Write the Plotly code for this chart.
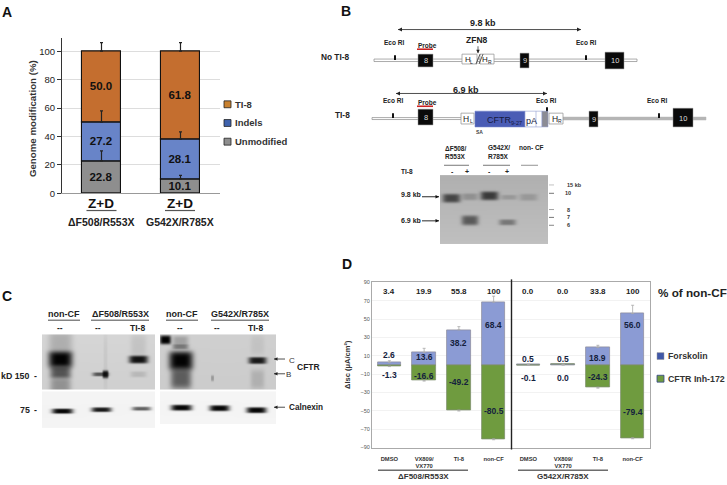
import base64
import math
import struct
import zlib

import numpy as np
import plotly.graph_objects as go

W, H = 727, 485
FONT = "Liberation Sans"

# panel A
a_groups = ["ΔF508/R553X", "G542X/R785X"]
a_unmod = [22.8, 10.1]
a_indels = [27.2, 28.1]
a_ti8 = [50.0, 61.8]
a_unmod_err = [7, 2.5]
a_indels_err = [8, 5]
a_ti8_err = [6, 6]

# panel D
d_labels = ["DMSO", "VX809/<br>VX770", "TI-8", "non-CF", "DMSO", "VX809/<br>VX770", "TI-8", "non-CF"]
d_forskolin = [2.6, 13.6, 38.2, 68.4, 0.5, 0.5, 18.9, 56.0]
d_inh172 = [-1.3, -16.6, -49.2, -80.5, -0.1, 0.0, -24.3, -79.4]
d_forskolin_err = [2, 4.5, 3.5, 6.5, 0.5, 0.5, 2.5, 9]
d_inh172_err = [0.5, 1, 1, 1, 0.5, 0, 1, 1]
d_percent = ["3.4", "19.9", "55.8", "100", "0.0", "0.0", "33.8", "100"]
d_ticks = [-90, -70, -50, -30, -10, 10, 30, 50, 70, 90]

shapes = []
notes = []
images = []


def fx(x):
    return x / W


def fy(y):
    return 1 - y / H


def box(x0, y0, x1, y1, fill, line="rgba(0,0,0,0)", lw=0.8):
    shapes.append(dict(type="rect", xref="paper", yref="paper", x0=fx(x0), x1=fx(x1), y0=fy(y0), y1=fy(y1),
                       fillcolor=fill, line=dict(color=line, width=lw)))


def seg(x0, y0, x1, y1, color="#333333", lw=1):
    shapes.append(dict(type="line", xref="paper", yref="paper", x0=fx(x0), x1=fx(x1), y0=fy(y0), y1=fy(y1),
                       line=dict(color=color, width=lw)))


def text(x, y, s, size=8, color="#222222", bold=True, anchor="center"):
    if bold:
        s = "<b>" + s + "</b>"
    notes.append(dict(xref="paper", yref="paper", x=fx(x), y=fy(y), text=s, showarrow=False, xanchor=anchor,
                      yanchor="middle", borderpad=0, font=dict(family=FONT, size=size, color=color)))


def vtext(x, y, s, size, color="#333333"):
    notes.append(dict(xref="paper", yref="paper", x=fx(x), y=fy(y), text=s, textangle=-90, showarrow=False,
                      xanchor="center", yanchor="middle", font=dict(family=FONT, size=size, color=color)))


def head(x0, y0, x1, y1, color, size):
    a = math.atan2(y1 - y0, x1 - x0)
    pts = [(x1, y1),
           (x1 - size * math.cos(a) - size * 0.5 * math.sin(a), y1 - size * math.sin(a) + size * 0.5 * math.cos(a)),
           (x1 - size * math.cos(a) + size * 0.5 * math.sin(a), y1 - size * math.sin(a) - size * 0.5 * math.cos(a))]
    path = "M" + " L".join("%.5f %.5f" % (fx(p), fy(q)) for p, q in pts) + " Z"
    shapes.append(dict(type="path", xref="paper", yref="paper", path=path, fillcolor=color, line=dict(width=0)))


def arrow(x0, y0, x1, y1, both=False, color="#222222", lw=0.8, size=4):
    seg(x0, y0, x1, y1, color, lw)
    head(x0, y0, x1, y1, color, size)
    if both:
        head(x1, y1, x0, y0, color, size)


def png_uri(arr):
    raw = b"".join(b"\x00" + row.tobytes() for row in arr)
    def chunk(tag, data):
        return struct.pack(">I", len(data)) + tag + data + struct.pack(">I", zlib.crc32(tag + data) & 0xffffffff)
    h, w = arr.shape
    png = b"\x89PNG\r\n\x1a\n" + chunk(b"IHDR", struct.pack(">IIBBBBB", w, h, 8, 0, 0, 0, 0)) \
        + chunk(b"IDAT", zlib.compress(raw)) + chunk(b"IEND", b"")
    return "data:image/png;base64," + base64.b64encode(png).decode()


def blot(x0, y0, x1, y1, bg_top, bg_bot, bands):
    # photographed gel/blot strip: grey ground with soft dark bands
    ys, xs = np.mgrid[y0:y1, x0:x1]
    img = bg_top + (bg_bot - bg_top) * (ys - y0) / (y1 - y0)
    img = img.astype(float)
    for cx, cy, sx, sy, dark in bands:
        d = dark * np.exp(-np.abs((xs - cx) / sx) ** 4 - np.abs((ys - cy) / sy) ** 4)
        img = img * (1 - d)
    images.append(dict(source=png_uri(np.clip(img, 0, 255).astype(np.uint8)), xref="paper", yref="paper", x=fx(x0), y=fy(y0),
                       sizex=(x1 - x0) / W, sizey=(y1 - y0) / H, xanchor="left", yanchor="top", sizing="stretch",
                       layer="below"))


fig = go.Figure()

# panel A bars
a_x = [0, 1]
for name, vals, col in [("Unmodified", a_unmod, "#8e8e8e"), ("Indels", a_indels, "#6884c8"), ("TI-8", a_ti8, "#c46e2f")]:
    fig.add_trace(go.Bar(x=a_x, y=vals, name=name, marker=dict(color=col, line=dict(color="#111111", width=1.1)),
                         width=0.5, text=["%.1f" % v for v in vals], textposition="inside", insidetextanchor="middle",
                         textangle=0, constraintext="none", insidetextfont=dict(family=FONT, size=11.5, color="#111111"),
                         texttemplate="<b>%{text}</b>", showlegend=False, xaxis="x", yaxis="y"))
a_tops1 = a_unmod
a_tops2 = [p + q for p, q in zip(a_unmod, a_indels)]
a_tops3 = [p + q + r for p, q, r in zip(a_unmod, a_indels, a_ti8)]
for tops, errs in [(a_tops1, a_unmod_err), (a_tops2, a_indels_err), (a_tops3, a_ti8_err)]:
    fig.add_trace(go.Scatter(x=a_x, y=tops, mode="markers", marker=dict(size=1, opacity=0), showlegend=False,
                             error_y=dict(type="data", symmetric=False, array=errs, arrayminus=[0, 0], color="#222222",
                                          thickness=1.2, width=1.5), xaxis="x", yaxis="y"))

# panel D bars
d_x = list(range(8))
fig.add_trace(go.Bar(x=d_x, y=d_forskolin, name="Forskolin", width=0.67, showlegend=False, xaxis="x2", yaxis="y2",
                     marker=dict(color="#8b9bd4", line=dict(color="#8f8f9f", width=0.8))))
fig.add_trace(go.Bar(x=d_x, y=d_inh172, name="CFTR Inh-172", width=0.67, showlegend=False, xaxis="x2", yaxis="y2",
                     marker=dict(color="#6f9b3f", line=dict(color="#7f8f6f", width=0.8))))
fig.add_trace(go.Scatter(x=d_x, y=d_forskolin, mode="markers", marker=dict(size=1, opacity=0), showlegend=False,
                         error_y=dict(type="data", symmetric=False, array=d_forskolin_err, arrayminus=[0] * 8,
                                      color="#aaaaaa", thickness=0.8, width=1.5), xaxis="x2", yaxis="y2"))
fig.add_trace(go.Scatter(x=d_x, y=d_inh172, mode="markers", marker=dict(size=1, opacity=0), showlegend=False,
                         error_y=dict(type="data", symmetric=False, array=[0] * 8, arrayminus=d_inh172_err,
                                      color="#aaaaaa", thickness=0.8, width=1.5), xaxis="x2", yaxis="y2"))

# value labels in D, placed by eye
forsk_y = [11, 9, 24, 44, 7, 7, 8, 43.5]
inh_y = [-10.5, -12.5, -19, -50, -14.4, -14.4, -13.6, -51]
for i in d_x:
    notes.append(dict(xref="x2", yref="y2", x=i, y=forsk_y[i], text="<b>%.1f</b>" % d_forskolin[i], showarrow=False,
                      font=dict(family=FONT, size=8.5, color="#14213d")))
    notes.append(dict(xref="x2", yref="y2", x=i, y=inh_y[i], text="<b>%.1f</b>" % d_inh172[i], showarrow=False,
                      font=dict(family=FONT, size=8.5, color="#14213d")))
    notes.append(dict(xref="x2", yref="y2", x=i, y=79.5, text="<b>%s</b>" % d_percent[i], showarrow=False,
                      font=dict(family=FONT, size=8, color="#222222")))

# panel letters
text(7, 9, "A", 14, "#111111")
text(346, 8, "B", 14, "#111111")
text(7, 298, "C", 14, "#111111")
text(347, 265, "D", 14, "#111111")

# panel A text
vtext(32, 118, "<b>Genome modification (%)</b>", 9.7)
for cx, g in zip([101.5, 180], a_groups):
    text(cx, 204, "Z+D", 13.5, "#111111")
    seg(cx - 15, 211, cx + 15, 211, "#555555", 1.2)
    text(cx, 223, g, 10.5, "#222222")
for ly, name, col in [(103, "TI-8", "#c8812f"), (122, "Indels", "#3f63ad"), (141, "Unmodified", "#8e8e8e")]:
    box(224, ly - 3.5, 231, ly + 3.5, col, "#222222", 0.8)
    text(234, ly, name, 9.5, "#333333", anchor="left")

# panel B top map
arrow(398, 27, 581, 27, both=True)
text(483, 20, "9.8 kb", 9)
text(394, 40, "Eco RI", 6.5)
text(586, 40, "Eco RI", 6.5)
text(427, 43, "Probe", 6.5)
seg(417, 47, 433, 47, "#cc2222", 1.6)
text(477, 38, "ZFN8", 8.5)
arrow(478, 44, 478, 51, lw=0.7, size=3.5)
text(335, 55, "No TI-8", 8.3)
box(374, 57, 637, 59.5, "#ffffff", "#888888", 0.7)
seg(395, 53, 395, 58, "#111111", 2)
seg(586, 53, 586, 58, "#111111", 2)
box(418, 52, 433, 65, "#0a0a0a", "#999999", 0.5)
box(462, 52, 477, 62, "#ffffff", "#999999", 0.8)
box(480, 52, 494, 62, "#ffffff", "#999999", 0.8)
text(468, 57, "H", 8, bold=False)
text(472, 59.5, "L", 5, bold=False)
text(485, 57, "H", 8, bold=False)
text(490, 59.5, "R", 5, bold=False)
seg(476, 62, 480, 52, "#333333", 0.8)
seg(479, 62, 483, 52, "#333333", 0.8)
box(520, 51, 529, 66, "#0a0a0a", "#999999", 0.5)
box(605, 50, 624, 67, "#0a0a0a", "#999999", 0.5)
text(425.5, 58.5, "8", 7.5, "#dddddd", False)
text(524.5, 58.5, "9", 7.5, "#dddddd", False)
text(614.5, 58.5, "10", 7.5, "#dddddd", False)

# panel B lower map
arrow(396, 92, 547, 92, both=True)
text(466, 88, "6.9 kb", 9)
text(393, 99, "Eco RI", 6.5)
text(546, 99, "Eco RI", 6.5)
text(657, 99, "Eco RI", 6.5)
text(427, 101, "Probe", 6.5)
seg(417, 105, 433, 105, "#cc2222", 1.6)
text(342, 114, "TI-8", 8.3)
box(372, 116.5, 462, 118.5, "#ffffff", "#888888", 0.7)
box(563, 116, 706, 119, "#b5b5b5", "#b5b5b5", 0.5)
seg(393, 112, 393, 117, "#111111", 2)
seg(547, 106, 547, 111, "#111111", 2)
seg(659, 112, 659, 117, "#111111", 2)
box(418, 108, 433, 124, "#0a0a0a", "#999999", 0.5)
box(461, 112, 474, 123, "#ffffff", "#999999", 0.8)
text(466.5, 117.5, "H", 8.5, bold=False)
text(471, 120, "L", 5, bold=False)
box(475, 110, 525, 126, "#4a5cb5", "#7080c8", 0.6)
text(499, 119, "CFTR", 9, "#15193d", False)
text(516, 122, "9-27", 5.5, "#15193d", False)
box(525, 110, 542, 126, "#ffffff", "#8f9ad0", 0.6)
seg(536, 110, 536, 126, "#8f9ad0", 0.6)
text(531, 119.5, "pA", 9, "#15193d", False)
box(542, 110, 548, 126, "#8c8c94", "#8f9ad0", 0.5)
box(549, 112, 563, 123, "#ffffff", "#999999", 0.8)
text(555, 117.5, "H", 8.5, bold=False)
text(560, 120, "R", 5, bold=False)
box(589, 110, 598, 126, "#0a0a0a", "#999999", 0.5)
box(673, 107, 693, 126, "#0a0a0a", "#999999", 0.5)
text(425.5, 116.5, "8", 7.5, "#dddddd", False)
text(593.5, 118, "9", 7.5, "#dddddd", False)
text(683, 117, "10", 7.5, "#dddddd", False)
text(479, 131, "SA", 5, "#444444")

# panel B southern blot
blot(440, 175, 548, 245, 176, 192, [
    (451, 198, 9, 4.5, 0.62), (469.5, 196.5, 8, 3.5, 0.2), (489, 195.5, 9, 4.5, 0.68), (508.5, 197, 8, 2.5, 0.16),
    (528, 197, 9, 3.5, 0.16), (469.5, 220.5, 8.5, 5, 0.52), (507, 222.5, 8.5, 3, 0.36)])
text(444, 148, "ΔF508/", 6.5, anchor="left")
text(444, 156, "R553X", 6.5, anchor="left")
seg(444, 165, 469, 165, "#555555", 0.8)
text(487, 147, "G542X/", 6.5, anchor="left")
text(487, 156, "R785X", 6.5, anchor="left")
seg(483, 165, 510, 165, "#555555", 0.8)
text(531, 147, "non- CF", 6.5)
seg(521, 165, 538, 165, "#777777", 0.8)
text(407, 171, "TI-8", 6.5)
for cx, s in [(452, "-"), (467, "+"), (489, "-"), (507, "+")]:
    text(cx, 171, s, 7)
text(411, 195, "9.8 kb", 7)
text(411, 221, "6.9 kb", 7)
arrow(422, 197, 439, 197, lw=0.9, color="#111111", size=3.5)
arrow(422, 221.5, 439, 221.5, lw=0.9, color="#111111", size=3.5)
for ly, s, ink in [(185, "15 kb", "#bbbbbb"), (193.5, "10", "#666666"), (210, "8", "#999999"), (218, "7", "#666666"), (226, "6", "#777777")]:
    seg(549, ly, 554, ly, ink, 0.9)
    text(574 if s == "15 kb" else 568, ly, s, 5.5, "#333333")

# panel C blots
blot(42, 337, 155, 393, 214, 208, [
    (60, 345, 12, 12, 0.18), (60, 362, 12, 8.5, 0.99), (60, 375, 10.5, 6, 0.6), (60, 388, 10.5, 8, 0.3),
    (105, 365, 2, 30, 0.05), (100, 377, 8, 2, 0.6), (105, 377, 3, 4, 0.85),
    (138, 348, 8, 12, 0.08), (138, 362, 9.5, 4, 0.92), (138, 377, 8, 3, 0.12)])
blot(160, 337, 276, 393, 208, 204, [
    (165, 342, 5.5, 4.5, 1.0), (180, 343, 8, 5, 0.22), (180, 349, 8, 2.5, 0.4), (180.5, 363, 12, 9.5, 0.99),
    (180.5, 381, 10.5, 11, 0.55), (212, 381, 1.5, 3, 0.25),
    (257, 347, 7, 10, 0.06), (257, 363, 9, 3.5, 0.88), (257, 382, 7, 10, 0.14)])
blot(42, 395, 155, 432, 244, 244, [
    (62, 414.5, 10.5, 2.6, 0.98), (101, 413, 10, 2.4, 0.9), (141, 412, 9.5, 2, 0.6)])
blot(160, 395, 276, 428, 245, 245, [
    (181, 411, 10.5, 3, 0.98), (219, 411.5, 10, 3, 0.98), (256, 413.5, 10, 3, 0.98)])
for cx, g, half in [(64, "non-CF", 16), (120, "ΔF508/R553X", 29), (182, "non-CF", 16), (240, "G542X/R785X", 29)]:
    text(cx, 316, g, 9)
    seg(cx - half, 322.5, cx + half, 322.5, "#333333", 0.9)
for cx, s in [(60, "--"), (98, "--"), (180, "--"), (217, "--"), (137, "TI-8"), (255, "TI-8")]:
    text(cx, 330, s, 8.5)
text(0, 379, "kD 150", 8.8, anchor="left")
text(38, 379, "-", 8.8, anchor="right")
text(31, 414, "75", 8.8, anchor="right")
text(38, 414, "-", 8.8, anchor="right")
arrow(285, 362, 274, 362, lw=0.8, size=3.5)
arrow(285, 377, 274, 377, lw=0.8, size=3.5)
arrow(285, 411, 274, 411, lw=0.8, size=3.5)
text(288, 363, "C", 8, "#333333", False, "left")
text(285, 377.5, "B", 8, "#333333", False, "left")
text(296, 370, "CFTR", 8.5, anchor="left")
text(288, 411, "Calnexin", 8.2, anchor="left")

# panel D extras
vtext(348, 368, "<b>ΔIsc (μA/cm²)</b>", 7.5)
seg(511.5, 281, 511.5, 454, "#222222", 1.4)
seg(378, 475, 468, 475, "#222222", 1)
seg(518, 475, 608, 475, "#222222", 1)
text(423, 481.5, a_groups[0], 8, "#333333")
text(563, 481.5, a_groups[1], 8, "#333333")
text(657, 294, "% of non-CF", 11.7, "#222222", anchor="left")
box(657, 355.5, 664, 362.5, "#4058a8", "#999999", 0.5)
text(667, 359, "Forskolin", 8.8, "#333333", anchor="left")
box(657, 378.5, 664, 385.5, "#6f9b3f", "#334488", 0.8)
text(667, 382, "CFTR Inh-172", 8.8, "#333333", anchor="left")

fig.update_layout(
    width=W, height=H, margin=dict(l=0, r=0, t=0, b=0), paper_bgcolor="white", plot_bgcolor="white",
    barmode="relative", bargap=0, showlegend=False, shapes=shapes, annotations=notes, images=images,
    font=dict(family=FONT),
    xaxis=dict(domain=[fx(62), fx(220)], range=[-0.5, 1.5], tickvals=[], showgrid=False, zeroline=False,
               showline=True, linecolor="#999999", linewidth=1),
    yaxis=dict(domain=[fy(193.5), fy(36)], range=[0, 109], tickvals=[0, 20, 40, 60, 80, 100], ticks="outside", ticklen=4,
               tickcolor="#333333", showline=True, linecolor="#333333", linewidth=1, gridcolor="#dddddd", gridwidth=1,
               zeroline=False, tickfont=dict(family=FONT, size=9.5, color="#222222"), tickprefix="<b>", ticksuffix="</b>"),
    xaxis2=dict(domain=[fx(372), fx(650)], range=[-0.5, 7.5], tickvals=d_x, ticktext=["<b>%s</b>" % t for t in d_labels],
                tickangle=0, ticks="outside", ticklen=5, tickcolor="rgba(0,0,0,0)", showgrid=False, zeroline=False, anchor="y2",
                showline=True, linecolor="#aaaaaa", linewidth=1, mirror=True, tickfont=dict(family=FONT, size=5.8, color="#333333")),
    yaxis2=dict(domain=[fy(452), fy(284)], range=[-90, 90], tickvals=d_ticks, anchor="x2", ticks="", gridcolor="#f2f2f2",
                zeroline=False, showline=True, linecolor="#aaaaaa", linewidth=1, mirror=True,
                tickfont=dict(family=FONT, size=5.5, color="#555555"), tickprefix="<b>", ticksuffix="</b>"),
)

fig.write_html("out.html", config={"displayModeBar": False}, post_script="document.body.style.margin='0';")
